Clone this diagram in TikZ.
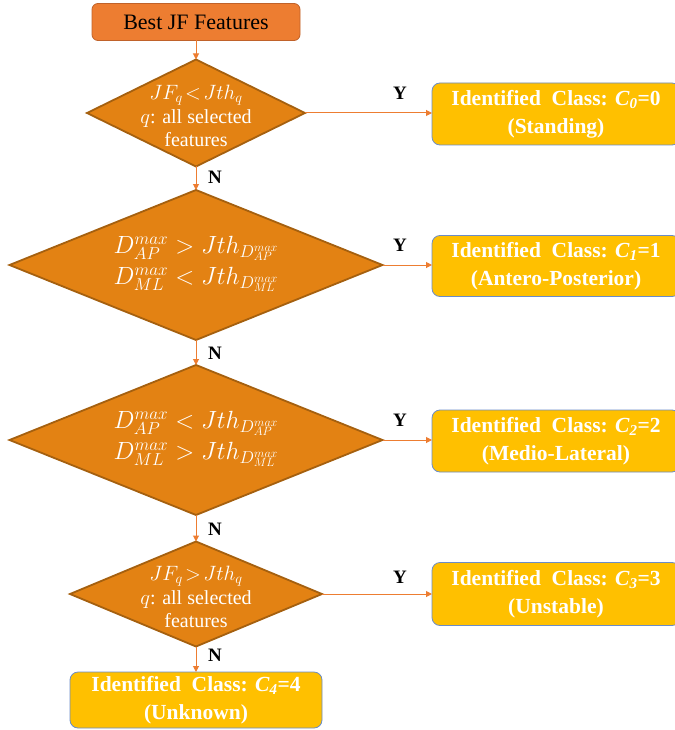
\documentclass[tikz,border=0pt]{standalone}
\usepackage{fontspec}
\setmainfont{Liberation Serif}
\usetikzlibrary{shapes.geometric,arrows.meta}
\definecolor{topfill}{HTML}{ED7D31}
\definecolor{topline}{HTML}{C0622A}
\definecolor{diafill}{HTML}{E38213}
\definecolor{dialine}{HTML}{A5600F}
\definecolor{boxfill}{HTML}{FFC000}
\definecolor{boxline}{HTML}{6A8CC8}
\definecolor{arrowc}{HTML}{ED7D31}
\tikzset{
  x=1pt,y=-1pt,
  dia/.style={diamond,draw=dialine,line width=1.8pt,fill=diafill,inner sep=0pt,outer sep=0pt},
  dtext/.style={text=white,font=\fontsize{20}{23.5}\selectfont,align=center,inner sep=0pt},
  mtext/.style={text=white,font=\fontsize{23}{31}\selectfont,align=center,inner sep=0pt},
  cls/.style={draw=boxline,line width=0.8pt,fill=boxfill,rounded corners=8pt,text=white,
    font=\bfseries\fontsize{21.5}{28}\selectfont,align=center,inner sep=0pt,outer sep=0pt},
  topbox/.style={draw=topline,line width=0.8pt,fill=topfill,rounded corners=6pt,
    font=\fontsize{22}{24}\selectfont,inner sep=0pt,outer sep=0pt,minimum width=208pt,minimum height=37pt},
  conn/.style={draw=arrowc,line width=1pt,-{Triangle[length=6pt,width=6pt]}},
  yn/.style={font=\bfseries\fontsize{19}{20}\selectfont,inner sep=0pt}
}
\begin{document}
\begin{tikzpicture}
\useasboundingbox (0,0) rectangle (674,730);
% top
\node[topbox] (top) at (196,22) {Best JF Features};
% diamonds
\node[dia,minimum width=218pt,minimum height=107pt] (d1) at (196,113) {};
\node[dtext] (t1) at (196,116) {$JF_q\!<\!Jth_q$\\$q$: all selected\\features};
\node[dia,minimum width=373pt,minimum height=150pt] (d2) at (196,265) {};
\node[mtext] (t2) at (196,264) {$D_{AP}^{max} > Jth_{D_{AP}^{max}}$\\$D_{ML}^{max} < Jth_{D_{ML}^{max}}$};
\node[dia,minimum width=373pt,minimum height=150pt] (d3) at (196,440) {};
\node[mtext] (t3) at (196,439) {$D_{AP}^{max} < Jth_{D_{AP}^{max}}$\\$D_{ML}^{max} > Jth_{D_{ML}^{max}}$};
\node[dia,minimum width=252pt,minimum height=105pt] (d4) at (196,594) {};
\node[dtext] (t4) at (196,597) {$JF_q\!>\!Jth_q$\\$q$: all selected\\features};
% class boxes
\node[cls,minimum width=248pt,minimum height=62pt] (c0) at (556,114) {Identified~~Class: \textit{C}\textsubscript{\textit{0}}=0\\(Standing)};
\node[cls,minimum width=248pt,minimum height=61pt] (c1) at (556,266) {Identified~~Class: \textit{C}\textsubscript{\textit{1}}=1\\(Antero-Posterior)};
\node[cls,minimum width=248pt,minimum height=62pt] (c2) at (556,441) {Identified~~Class: \textit{C}\textsubscript{\textit{2}}=2\\(Medio-Lateral)};
\node[cls,minimum width=248pt,minimum height=63pt] (c3) at (556,594) {Identified~~Class: \textit{C}\textsubscript{\textit{3}}=3\\(Unstable)};
\node[cls,minimum width=252pt,minimum height=56pt] (c4) at (196,700) {Identified~~Class: \textit{C}\textsubscript{\textit{4}}=4\\(Unknown)};
% connectors
\draw[conn] (top) -- (d1.north);
\draw[conn] (d1.south) -- (d2.north);
\draw[conn] (d2.south) -- (d3.north);
\draw[conn] (d3.south) -- (d4.north);
\draw[conn] (d4.south) -- (c4.north);
\draw[conn] (d1.east) -- (d1.east -| c0.west);
\draw[conn] (d2.east) -- (d2.east -| c1.west);
\draw[conn] (d3.east) -- (d3.east -| c2.west);
\draw[conn] (d4.east) -- (d4.east -| c3.west);
% labels
\node[yn] (y1) at (400,93) {Y};
\node[yn] (y2) at (400,245) {Y};
\node[yn] (y3) at (400,420) {Y};
\node[yn] (y4) at (400,577) {Y};
\node[yn] (n1) at (215,177) {N};
\node[yn] (n2) at (215,353) {N};
\node[yn] (n3) at (215,529) {N};
\node[yn] (n4) at (215,655) {N};
\end{tikzpicture}
\end{document}
